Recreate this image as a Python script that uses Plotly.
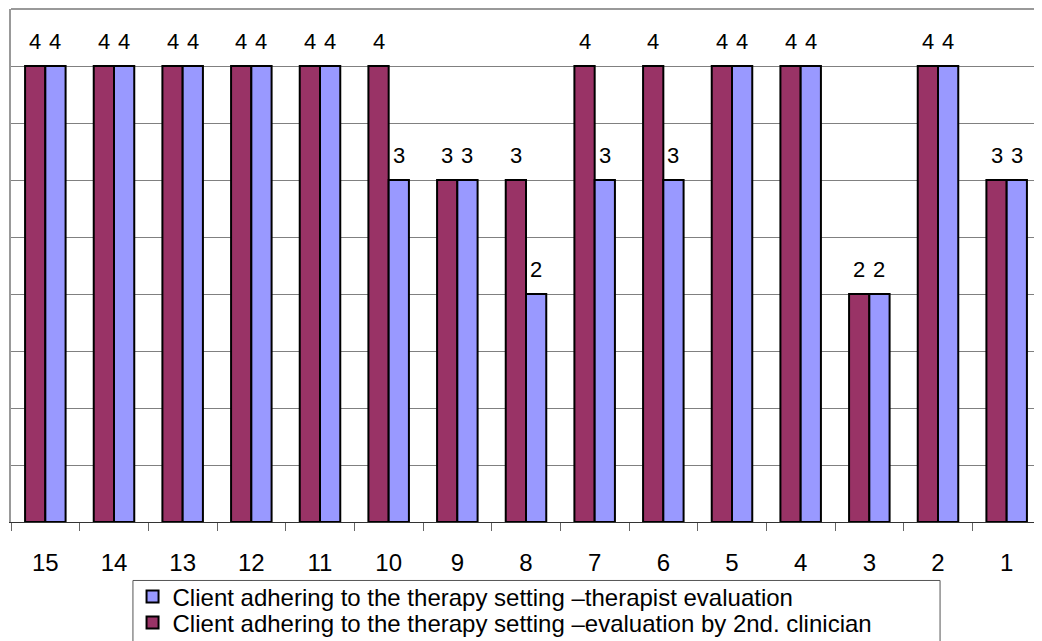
import plotly.graph_objects as go

# данные с картинки
sessions = ["15", "14", "13", "12", "11", "10", "9", "8", "7", "6", "5", "4", "3", "2", "1"]
clinician_2nd = [4, 4, 4, 4, 4, 4, 3, 3, 4, 4, 4, 4, 2, 4, 3]
therapist = [4, 4, 4, 4, 4, 3, 3, 2, 3, 3, 4, 4, 2, 4, 3]

name_therapist = "Client adhering to the therapy setting \u2013therapist evaluation"
name_clinician = "Client adhering to the therapy setting \u2013evaluation by 2nd. clinician"

FONT = "Liberation Sans, Arial, sans-serif"
MAROON = "#993366"
LILAC = "#9999FF"

fig = go.Figure()

fig.add_trace(go.Bar(
    x=sessions,
    y=clinician_2nd,
    name=name_clinician,
    legend="legend2",
    marker=dict(color=MAROON, line=dict(color="#000000", width=2)),
    hoverinfo="x+y",
))

fig.add_trace(go.Bar(
    x=sessions,
    y=therapist,
    name=name_therapist,
    legend="legend",
    marker=dict(color=LILAC, line=dict(color="#000000", width=2)),
    hoverinfo="x+y",
))

# подписи значений над столбцами (x - номер категории)
for series, shift in [(clinician_2nd, -10), (therapist, 10)]:
    for i, val in enumerate(series):
        fig.add_annotation(
            x=i, y=val, text=str(val),
            showarrow=False, xanchor="center", yanchor="bottom",
            xshift=shift, yshift=10,
            font=dict(family=FONT, size=22, color="#000000"),
        )

# верхняя рамка
fig.add_shape(type="line", xref="paper", yref="paper",
              x0=0, x1=1, y0=1, y1=1,
              line=dict(color="#999999", width=2))

# рамка легенды (уходит за нижний край)
fig.add_shape(type="rect", xref="paper", yref="paper",
              x0=0.1184, x1=0.902, y0=-0.114, y1=-0.40,
              line=dict(color="#555555", width=1), fillcolor="rgba(0,0,0,0)")

legend_common = dict(
    orientation="v",
    x=0.118, xanchor="left",
    yanchor="middle",
    bgcolor="rgba(0,0,0,0)",
    borderwidth=0,
    font=dict(family=FONT, size=24, color="#000000"),
)

# body со стандартным отступом 8px - компенсируем размерами;
# высота больше окна, чтобы легенда не сжимала область графика
fig.update_layout(
    width=1034,
    height=660,
    margin=dict(l=3, r=1, t=1, b=146),
    barmode="group",
    bargap=0.41,
    bargroupgap=0,
    plot_bgcolor="#ffffff",
    paper_bgcolor="#ffffff",
    font=dict(family=FONT, size=18, color="#000000"),
    showlegend=True,
    legend=dict(legend_common, y=-0.1462),
    legend2=dict(legend_common, y=-0.1969),
)

fig.update_xaxes(
    type="category",
    showline=True,
    linecolor="#333333",
    linewidth=1,
    ticks="outside",
    tickson="boundaries",
    ticklen=8,
    tickcolor="#666666",
    tickfont=dict(family=FONT, size=24, color="#000000"),
    ticklabelstandoff=19,
    showgrid=False,
    fixedrange=True,
)

fig.update_yaxes(
    range=[0, 4.5],
    dtick=0.5,
    showticklabels=False,
    showgrid=True,
    gridcolor="#808080",
    gridwidth=1,
    showline=True,
    linecolor="#999999",
    linewidth=2,
    ticks="",
    zeroline=False,
    fixedrange=True,
)

fig.write_html("out.html")
